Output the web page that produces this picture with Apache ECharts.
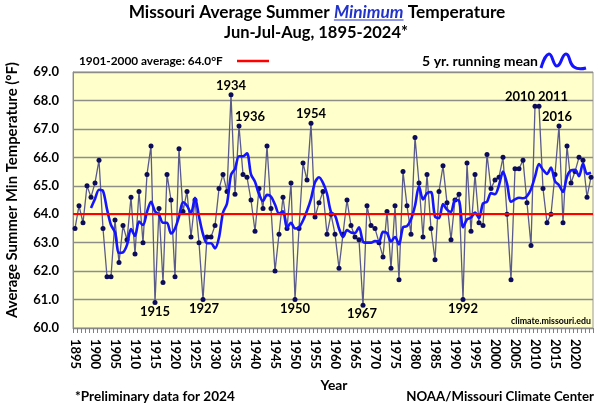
<!DOCTYPE html>
<html><head><meta charset="utf-8">
<script src="https://cdn.jsdelivr.net/npm/echarts@6/dist/echarts.min.js"></script>
<style>html,body{margin:0;padding:0;background:#fff}#c{width:600px;height:405px}</style>
</head><body><div id="c"></div>
<script>
// ---------- DATA ----------
const years = ['1895','1896','1897','1898','1899','1900','1901','1902','1903','1904','1905','1906','1907','1908','1909','1910','1911','1912','1913','1914','1915','1916','1917','1918','1919','1920','1921','1922','1923','1924','1925','1926','1927','1928','1929','1930','1931','1932','1933','1934','1935','1936','1937','1938','1939','1940','1941','1942','1943','1944','1945','1946','1947','1948','1949','1950','1951','1952','1953','1954','1955','1956','1957','1958','1959','1960','1961','1962','1963','1964','1965','1966','1967','1968','1969','1970','1971','1972','1973','1974','1975','1976','1977','1978','1979','1980','1981','1982','1983','1984','1985','1986','1987','1988','1989','1990','1991','1992','1993','1994','1995','1996','1997','1998','1999','2000','2001','2002','2003','2004','2005','2006','2007','2008','2009','2010','2011','2012','2013','2014','2015','2016','2017','2018','2019','2020','2021','2022','2023','2024'];
const minTemps = [63.5,64.3,63.7,65.0,64.6,65.1,65.9,63.5,61.8,61.8,63.8,62.3,63.6,63.1,64.6,62.6,64.8,63.0,65.4,66.4,60.9,64.2,61.6,65.4,64.5,61.8,66.3,64.1,64.8,63.2,64.5,63.0,61.0,63.2,63.2,63.6,64.9,65.4,64.8,68.2,64.7,67.1,65.4,65.3,64.5,63.4,64.9,64.2,66.4,64.2,62.0,63.3,64.6,63.5,65.1,61.0,63.5,65.8,65.2,67.2,63.9,64.4,64.8,63.3,64.0,63.3,62.1,63.3,64.5,63.6,63.2,63.1,60.8,64.3,63.6,63.5,63.0,62.5,64.1,62.1,64.3,61.7,65.5,64.3,63.3,66.7,65.1,63.2,65.4,63.5,62.4,64.8,65.7,64.4,63.1,64.5,64.7,61.0,65.8,63.4,65.4,63.7,63.6,66.1,64.9,65.2,65.3,66.0,64.0,61.7,65.6,65.6,65.9,64.4,62.9,67.8,67.8,64.9,63.7,64.0,65.4,67.1,63.7,66.4,65.1,65.5,66.0,65.9,64.6,65.3];
const tickYears = ['1895','1900','1905','1910','1915','1920','1925','1930','1935','1940','1945','1950','1955','1960','1965','1970','1975','1980','1985','1990','1995','2000','2005','2010','2015','2020'];
const yTicks = [60,61,62,63,64,65,66,67,68,69];
const centuryAverage = 64.0;
const runningWindow = 5;
const labelTop = ['1934','1936','1954','2010','2011','2016'];
const labelBottom = ['1915','1927','1950','1967','1992'];

// ---------- STYLE ----------
const FONT = 'Lato';
const labelShift = {'1936':[11,0],'2010':[-15,0],'2011':[14,0],'2016':[-2,0],'1927':[1,0],'1967':[-1,0]};

// running mean (trailing, as defined by "5 yr. running mean")
const runMean = minTemps.map((v,i)=>{
  if (i < runningWindow-1) return '-';
  let s = 0; for (let k=i-runningWindow+1;k<=i;k++) s += minTemps[k];
  return +(s/runningWindow).toFixed(3);
});

const ctx = document.createElement('canvas').getContext('2d');
function meas(t, size, style){ ctx.font = (style||'') + ' bold ' + size + 'px ' + FONT; return ctx.measureText(t).width; }
function fit(t, w, style){ return 100*w/meas(t,100,style); }

// title pieces
const t1a = 'Missouri Average Summer ', t1b = 'Minimum', t1c = ' Temperature';
const tw100 = meas(t1a,100)+meas(t1b,100,'italic')+meas(t1c,100);
const tSize = 100*377/tw100;
const wa = meas(t1a,tSize), wb = meas(t1b,tSize,'italic'), wc = meas(t1c,tSize);
const tx0 = 317 - (wa+wb+wc)/2;

function txt(x,y,text,size,opt){
  opt = opt||{};
  return {type:'text', x:x, y:y, rotation:opt.rot||0, z:10,
    style:{text:text, fontSize:size, fontWeight:'bold', fontStyle:opt.italic?'italic':'normal', fontFamily:FONT,
      fill:opt.color||'#000', align:opt.align||'left', verticalAlign:'middle'}};
}

const annual = minTemps.map((v,i)=>{
  const y = years[i];
  const pos = labelTop.includes(y) ? 'top' : (labelBottom.includes(y) ? 'bottom' : null);
  if (!pos) return v;
  return {value:v, label:{show:true, position:pos, distance:0, offset:labelShift[y]||[0,0],
    formatter:y, fontSize:13, fontWeight:'bold', color:'#000', fontFamily:FONT}};
});

const chart = echarts.init(document.getElementById('c'), null, {renderer:'canvas'});
chart.setOption({
  animation:false,
  backgroundColor:'#ffffff',
  textStyle:{fontFamily:FONT},
  grid:{left:73, right:7, top:72, bottom:77, show:true, backgroundColor:'#FFFFCC', borderColor:'#9a9a9a', borderWidth:1, containLabel:false},
  xAxis:{type:'category', data:years, boundaryGap:true,
    axisLine:{lineStyle:{color:'#8a8a8a', width:1}},
    axisTick:{show:true, interval:0, length:5, lineStyle:{color:'#808080', width:1}},
    axisLabel:{interval:(i,v)=>tickYears.includes(v), rotate:-90, margin:11, fontSize:13, fontWeight:'bold', color:'#000', fontFamily:FONT},
    splitLine:{show:false}},
  yAxis:{type:'value', min:yTicks[0], max:yTicks[yTicks.length-1], interval:1,
    axisLine:{show:true, lineStyle:{color:'#8a8a8a'}}, axisTick:{show:false},
    axisLabel:{formatter:v=>v.toFixed(1), fontSize:13, fontWeight:'bold', color:'#000', margin:14, fontFamily:FONT},
    splitLine:{lineStyle:{color:'#8e8e86', width:1.3}}},
  series:[
    {type:'line', name:'annual', data:annual, symbol:'circle', symbolSize:5, showAllSymbol:true,
      lineStyle:{color:'#5a5a8c', width:1.3}, itemStyle:{color:'#0c0c5a'}, z:2, label:{show:false}},
    {type:'line', name:'avg', data:[], z:3,
      markLine:{silent:true, symbol:['none','none'], label:{show:false},
        lineStyle:{color:'#ff0000', type:'solid', width:2}, data:[{yAxis:centuryAverage}]}},
    {type:'line', name:'mean', data:runMean, smooth:0.3, symbol:'none', connectNulls:false,
      lineStyle:{color:'#1414ff', width:2.6}, z:4}
  ],
  graphic:[
    txt(tx0, 12, t1a, tSize),
    txt(tx0+wa, 12, t1b, tSize, {italic:true, color:'#2233cc'}),
    {type:'line', z:10, shape:{x1:tx0+wa, y1:20, x2:tx0+wa+wb, y2:20}, style:{stroke:'#2233cc', lineWidth:1.2}},
    txt(tx0+wa+wb, 12, t1c, tSize),
    txt(316, 33, 'Jun-Jul-Aug, 1895-2024*', fit('Jun-Jul-Aug, 1895-2024*',184), {align:'center'}),
    txt(79, 61, '1901-2000 average: 64.0°F', fit('1901-2000 average: 64.0°F',144)),
    {type:'line', z:10, shape:{x1:237, y1:61, x2:269, y2:61}, style:{stroke:'#ff0000', lineWidth:2.5}},
    txt(538, 61, '5 yr. running mean', fit('5 yr. running mean',116), {align:'right'}),
    {type:'polyline', z:10, shape:{points:[[541,68],[549,54],[557,66],[566,54],[574,67],[586,68]], smooth:0.5},
      style:{stroke:'#1414ff', lineWidth:3, fill:null}},
    txt(12, 190, 'Average Summer Min Temperature (°F)', fit('Average Summer Min Temperature (°F)',256), {align:'center', rot:Math.PI/2}),
    txt(334, 386, 'Year', fit('Year',27), {align:'center'}),
    txt(75, 397, '*Preliminary data for 2024', fit('*Preliminary data for 2024',160)),
    txt(594, 397, 'NOAA/Missouri Climate Center', fit('NOAA/Missouri Climate Center',188), {align:'right'}),
    txt(591, 321, 'climate.missouri.edu', fit('climate.missouri.edu',80), {align:'right'})
  ]
});
</script></body></html>
